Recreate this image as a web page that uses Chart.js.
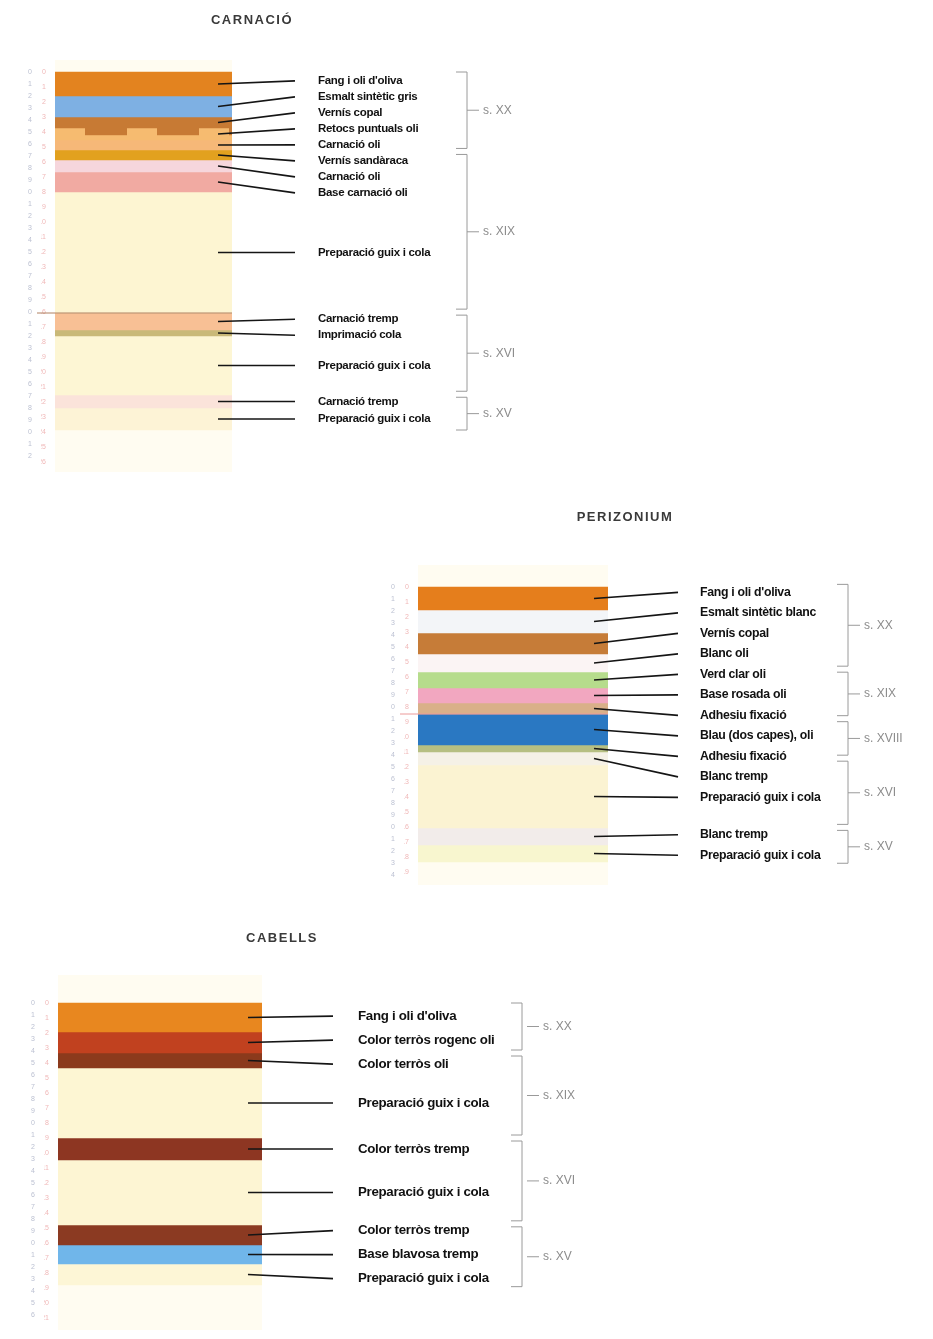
<!DOCTYPE html>
<html>
<head>
<meta charset="utf-8">
<script src="https://cdn.jsdelivr.net/npm/chart.js@4/dist/chart.umd.min.js"></script>
<style>
  body { margin: 0; background: #fff; }
  #wrap { position: relative; width: 933px; height: 1339px; }
  canvas { position: absolute; }
</style>
</head>
<body>
<div id="wrap">
  <canvas id="carnacio" width="540" height="490" style="left:0px;top:0px"></canvas>
  <canvas id="perizonium" width="563" height="400" style="left:370px;top:500px"></canvas>
  <canvas id="cabells" width="620" height="419" style="left:0px;top:920px"></canvas>
</div>
<script>
// layers are listed from the surface down, thickness in scale units
const carnacioLayers = ["Fang i oli d'oliva", 'Esmalt sintètic gris', 'Vernís copal', 'Retocs puntuals oli',
  'Carnació oli', 'Vernís sandàraca', 'Carnació oli', 'Base carnació oli', 'Preparació guix i cola',
  'Carnació tremp', 'Imprimació cola', 'Preparació guix i cola', 'Carnació tremp', 'Preparació guix i cola'];
const carnacioThickness = [24, 21, 11, 12, 10, 10, 12, 20, 121, 17, 6, 59, 13, 22];
const carnacioCenturies = ['s. XX', 's. XIX', 's. XVI', 's. XV'];
const carnacioCenturyEnds = [4, 8, 11, 13];

const perizoniumLayers = ["Fang i oli d'oliva", 'Esmalt sintètic blanc', 'Vernís copal', 'Blanc oli',
  'Verd clar oli', 'Base rosada oli', 'Adhesiu fixació', 'Blau (dos capes), oli', 'Adhesiu fixació',
  'Blanc tremp', 'Preparació guix i cola', 'Blanc tremp', 'Preparació guix i cola'];
const perizoniumThickness = [23, 23, 21, 18, 16, 15, 11, 31, 7, 13, 63, 17, 17];
const perizoniumCenturies = ['s. XX', 's. XIX', 's. XVIII', 's. XVI', 's. XV'];
const perizoniumCenturyEnds = [3, 6, 8, 10, 12];

const cabellsLayers = ["Fang i oli d'oliva", 'Color terròs rogenc oli', 'Color terròs oli',
  'Preparació guix i cola', 'Color terròs tremp', 'Preparació guix i cola', 'Color terròs tremp',
  'Base blavosa tremp', 'Preparació guix i cola'];
const cabellsThickness = [29, 21, 15, 70, 22, 65, 20, 19, 21];
const cabellsCenturies = ['s. XX', 's. XIX', 's. XVI', 's. XV'];
const cabellsCenturyEnds = [1, 3, 5, 8];

// colours
const carnacioColors = ['#e3831f', '#7eb0e3', '#c77a34', '#f6bb70', '#f6b878', '#e2a11f', '#f6d6dc',
  '#f1aaa2', '#fdf5d2', '#f8c095', '#c9b978', '#fdf6d4', '#fbe3da', '#fdf3d6'];
const perizoniumColors = ['#e57e1c', '#f3f5f8', '#c67c38', '#fbf4f4', '#b6dc8c', '#f2a7c0', '#d9b089',
  '#2a78c2', '#b6bf82', '#f5f1e6', '#fbf3d2', '#f2ecea', '#f8f6cf'];
const cabellsColors = ['#e8871f', '#c1411f', '#8b3a1c', '#fdf6d3', '#8d3622', '#fdf5d3', '#8b3a22',
  '#70b6ea', '#fdf6d6'];

// place labels near their layer, pushing crowded ones apart as a centred group
function spread(mids, gap) {
  let groups = mids.map(m => ({ n: 1, sum: m }));
  let changed = true;
  while (changed) {
    changed = false;
    for (let i = 0; i < groups.length - 1; i++) {
      const a = groups[i], b = groups[i + 1];
      const aEnd = a.sum / a.n + (a.n - 1) * gap / 2;
      const bStart = b.sum / b.n - (b.n - 1) * gap / 2;
      if (bStart - aEnd < gap) {
        groups.splice(i, 2, { n: a.n + b.n, sum: a.sum + b.sum });
        changed = true;
        break;
      }
    }
  }
  const out = [];
  groups.forEach(g => {
    const start = g.sum / g.n - (g.n - 1) * gap / 2;
    for (let k = 0; k < g.n; k++) out.push(start + k * gap);
  });
  return out;
}

const layerPlugin = {
  id: 'layers',
  beforeDatasetsDraw(chart, args, o) {
    const { ctx, chartArea: a } = chart;
    ctx.save();
    ctx.fillStyle = '#fffcf1';
    ctx.fillRect(a.left, a.top, a.right - a.left, a.bottom - a.top);
    ctx.restore();
  },
  afterDatasetsDraw(chart, args, o) {
    const { ctx, chartArea: a } = chart;
    const y = chart.scales.y;
    const sets = chart.data.datasets;
    const tops = [], bots = [];
    let acc = 0;
    sets.forEach(ds => {
      tops.push(y.getPixelForValue(acc));
      acc += ds.data[0];
      bots.push(y.getPixelForValue(acc));
    });
    const mids = tops.map((t, i) => (t + bots[i]) / 2);
    const labY = spread(mids, o.gap);
    const right = a.right;
    ctx.save();

    // dotted retouching layer
    if (o.dotted >= 0) {
      const bar = chart.getDatasetMeta(o.dotted).data[0];
      const t = tops[o.dotted], h = (bots[o.dotted] - t) * 0.6;
      ctx.fillStyle = '#c77a34';
      for (let x = bar.x - bar.width / 2 + 30; x < bar.x + bar.width / 2; x += 72) {
        ctx.fillRect(x, t, Math.min(42, bar.x + bar.width / 2 - x), h);
      }
    }

    // thin boundary line reaching out to the scale
    if (o.rule >= 0) {
      ctx.strokeStyle = o.ruleColor;
      ctx.lineWidth = 1;
      ctx.beginPath();
      ctx.moveTo(a.left - 18, tops[o.rule]);
      ctx.lineTo(right, tops[o.rule]);
      ctx.stroke();
    }

    // title
    ctx.fillStyle = '#3a3a3a';
    ctx.font = 'bold 13px "Liberation Sans", Arial, sans-serif';
    ctx.letterSpacing = '1.5px';
    ctx.textAlign = 'center';
    ctx.textBaseline = 'middle';
    ctx.fillText(o.title, right + o.titleDx, o.titleY);
    ctx.letterSpacing = '0px';

    // leader lines and layer names
    ctx.strokeStyle = '#151515';
    ctx.lineWidth = 1.6;
    mids.forEach((m, i) => {
      ctx.beginPath();
      ctx.moveTo(right - 14, m);
      ctx.lineTo(right + o.lineEnd, labY[i]);
      ctx.stroke();
    });
    ctx.fillStyle = '#111';
    ctx.textAlign = 'left';
    ctx.font = 'bold ' + o.fontSize + 'px "Liberation Sans", Arial, sans-serif';
    ctx.letterSpacing = '-0.3px';
    sets.forEach((ds, i) => ctx.fillText(ds.label, right + o.labelX, labY[i]));
    ctx.letterSpacing = '0px';

    // century brackets
    const ext = [];
    let s = 0;
    o.ends.forEach(e => {
      ext.push({
        top: Math.min(tops[s], labY[s] - 8),
        bot: Math.max(bots[e], labY[e] + 8)
      });
      s = e + 1;
    });
    for (let k = 1; k < ext.length; k++) {
      if (ext[k].top < ext[k - 1].bot + 6) {
        const m = (ext[k].top + ext[k - 1].bot) / 2;
        ext[k - 1].bot = m - 3;
        ext[k].top = m + 3;
      }
    }
    const bx = right + o.bracketX;
    ctx.strokeStyle = '#9a9a9a';
    ctx.lineWidth = 1;
    ctx.fillStyle = '#8c8c8c';
    ctx.font = '12px "Liberation Sans", Arial, sans-serif';
    ext.forEach((g, k) => {
      const mid = (g.top + g.bot) / 2;
      ctx.beginPath();
      ctx.moveTo(bx - 11, g.top);
      ctx.lineTo(bx, g.top);
      ctx.lineTo(bx, g.bot);
      ctx.lineTo(bx - 11, g.bot);
      ctx.moveTo(bx + o.tickGap, mid);
      ctx.lineTo(bx + o.tickGap + 12, mid);
      ctx.stroke();
      ctx.fillText(o.centuries[k], bx + o.tickGap + 16, mid);
    });
    ctx.restore();
  }
};

function drawColumn(id, layers, thickness, colors, centuries, ends, look) {
  const datasets = layers.map((name, i) => ({
    label: name,
    data: [thickness[i]],
    backgroundColor: colors[i],
    borderWidth: 0,
    barPercentage: 1,
    categoryPercentage: 1
  }));
  new Chart(document.getElementById(id), {
    type: 'bar',
    data: { labels: [''], datasets: datasets },
    options: {
      responsive: false,
      animation: false,
      events: [],
      layout: { padding: look.padding },
      plugins: {
        legend: { display: false },
        tooltip: { enabled: false },
        layers: Object.assign({ centuries: centuries, ends: ends }, look.marks)
      },
      scales: {
        x: { stacked: true, display: false },
        y: {
          stacked: true, reverse: true, position: 'left',
          min: look.min, max: look.max,
          grid: { display: false }, border: { display: false },
          ticks: {
            stepSize: 15, autoSkip: false, padding: 1, color: '#f0b8b8',
            font: { size: 7 },
            callback: v => (v >= 0 && v % 15 === 0) ? String(v / 15) : ''
          },
          afterFit: sc => { sc.width = 14; }
        },
        y2: {
          reverse: true, position: 'left',
          min: look.min, max: look.max,
          grid: { display: false }, border: { display: false },
          ticks: {
            stepSize: 12, autoSkip: false, padding: 1, color: '#bcc1d2',
            font: { size: 7 },
            callback: v => (v >= 0 && v % 12 === 0) ? String((v / 12) % 10) : ''
          },
          afterFit: sc => { sc.width = 14; }
        }
      }
    },
    plugins: [layerPlugin]
  });
}

drawColumn('carnacio', carnacioLayers, carnacioThickness, carnacioColors, carnacioCenturies, carnacioCenturyEnds, {
  padding: { left: 27, right: 308, top: 60, bottom: 18 },
  min: -12, max: 400,
  marks: { title: 'CARNACIÓ', titleDx: 20, titleY: 20, gap: 16, fontSize: 11.5, lineEnd: 63, labelX: 86,
    bracketX: 235, tickGap: 0, dotted: 3, rule: 9, ruleColor: '#b08060' }
});

drawColumn('perizonium', perizoniumLayers, perizoniumThickness, perizoniumColors, perizoniumCenturies, perizoniumCenturyEnds, {
  padding: { left: 20, right: 325, top: 65, bottom: 15 },
  min: -22, max: 298,
  marks: { title: 'PERIZONIUM', titleDx: 17, titleY: 17, gap: 20.5, fontSize: 12.3, lineEnd: 70, labelX: 92,
    bracketX: 240, tickGap: 0, dotted: -1, rule: 7, ruleColor: '#ec9a9a' }
});

drawColumn('cabells', cabellsLayers, cabellsThickness, cabellsColors, cabellsCenturies, cabellsCenturyEnds, {
  padding: { left: 30, right: 358, top: 55, bottom: 9 },
  min: -28, max: 327,
  marks: { title: 'CABELLS', titleDx: 20, titleY: 18, gap: 24, fontSize: 13.3, lineEnd: 71, labelX: 96,
    bracketX: 260, tickGap: 5, dotted: -1, rule: -1, ruleColor: '#000' }
});
</script>
</body>
</html>
